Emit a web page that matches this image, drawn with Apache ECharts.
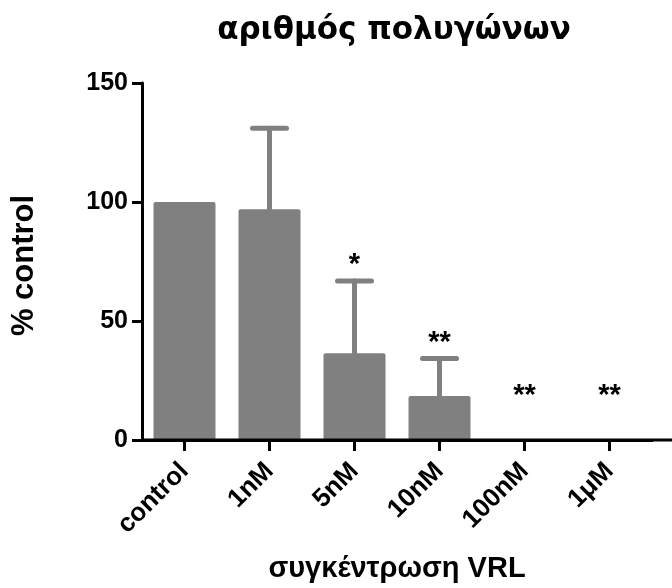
<!DOCTYPE html>
<html>
<head>
<meta charset="utf-8">
<script src="https://cdn.jsdelivr.net/npm/echarts@6/dist/echarts.min.js"></script>
<style>html,body{margin:0;padding:0;background:#fff;}#c{width:672px;height:588px;}</style>
</head>
<body>
<div id="c"></div>
<script>
const categories = ['control', '1nM', '5nM', '10nM', '100nM', '1μM'];
const means = [100, 97, 36.5, 18.5, 0, 0];
const errors = [0, 34, 30.3, 15.7, 0, 0];
const significance = ['', '', '*', '**', '**', '**'];
const yTicks = [0, 50, 100, 150];

const GREY = '#808080';
const chart = echarts.init(document.getElementById('c'), null, {renderer: 'canvas'});

const errData = categories.map((c, i) => [i, means[i], means[i] + errors[i]]);
const sigData = categories.map((c, i) => [i, means[i] + errors[i], significance[i]]);

chart.setOption({
  animation: false,
  title: {
    text: 'αριθμός πολυγώνων',
    left: 389, top: 10, textAlign: 'center',
    textStyle: {fontFamily: 'DejaVu Sans', fontWeight: 'bold', fontSize: 31, color: '#000'}
  },
  grid: {left: 142, top: 83, width: 510, bottom: 148, outerBoundsMode: 'none', containLabel: false},
  xAxis: {
    type: 'category',
    data: categories,
    z: 10,
    axisLine: {show: true, onZero: false, lineStyle: {color: '#000', width: 3}},
    axisTick: {show: true, alignWithLabel: true, length: 11, lineStyle: {color: '#000', width: 3}},
    axisLabel: {rotate: 45, margin: 27, color: '#000', fontFamily: 'Liberation Sans', fontWeight: 'bold', fontSize: 26},
    name: 'συγκέντρωση VRL',
    nameLocation: 'middle',
    nameGap: 114,
    nameTextStyle: {color: '#000', fontFamily: 'Liberation Sans', fontWeight: 'bold', fontSize: 29}
  },
  yAxis: {
    type: 'value',
    min: yTicks[0], max: yTicks[yTicks.length - 1], interval: 50,
    splitLine: {show: false},
    axisLine: {show: true, lineStyle: {color: '#000', width: 3}},
    axisTick: {show: true, length: 10, lineStyle: {color: '#000', width: 3}},
    axisLabel: {margin: 14, color: '#000', fontFamily: 'Liberation Sans', fontWeight: 'bold', fontSize: 25},
    name: '% control',
    nameLocation: 'middle',
    nameGap: 102,
    nameRotate: 90,
    nameTextStyle: {color: '#000', fontFamily: 'Liberation Sans', fontWeight: 'bold', fontSize: 31, padding: [0, 8, 0, 0]}
  },
  series: [
    {
      type: 'bar',
      data: means,
      barWidth: 62,
      itemStyle: {color: GREY, borderRadius: [2, 2, 0, 0]},
      z: 2
    },
    {
      type: 'custom',
      data: errData,
      z: 3,
      renderItem: function (params, api) {
        const i = api.value(0);
        if (api.value(2) <= api.value(1)) return null;
        const p0 = api.coord([i, api.value(1)]);
        const p1 = api.coord([i, api.value(2)]);
        const hw = 17;
        const style = {stroke: GREY, lineWidth: 5, lineCap: 'round'};
        return {
          type: 'group',
          children: [
            {type: 'line', shape: {x1: p0[0], y1: p0[1], x2: p1[0], y2: p1[1]}, style: style},
            {type: 'line', shape: {x1: p1[0] - hw, y1: p1[1], x2: p1[0] + hw, y2: p1[1]}, style: style}
          ]
        };
      }
    },
    {
      type: 'custom',
      data: sigData,
      z: 4,
      renderItem: function (params, api) {
        const i = api.value(0);
        const top = api.value(1);
        const txt = significance[i];
        if (!txt) return null;
        const p = api.coord([i, top]);
        const y = top > 0 ? p[1] - 23 : p[1] - 51;
        return {
          type: 'text',
          style: {
            x: p[0], y: y + 7, text: txt,
            align: 'center', verticalAlign: 'middle',
            font: 'bold 29px "Liberation Sans"', fill: '#000'
          }
        };
      }
    }
  ]
});

// extend x axis line to the right edge like the reference
const y0 = chart.convertToPixel({yAxisIndex: 0}, 0);
const xStart = 142;
chart.setOption({
  graphic: [{
    type: 'line', z: 100, shape: {x1: xStart, y1: y0, x2: 672, y2: y0},
    style: {stroke: '#000', lineWidth: 3}
  }]
});
</script>
</body>
</html>
